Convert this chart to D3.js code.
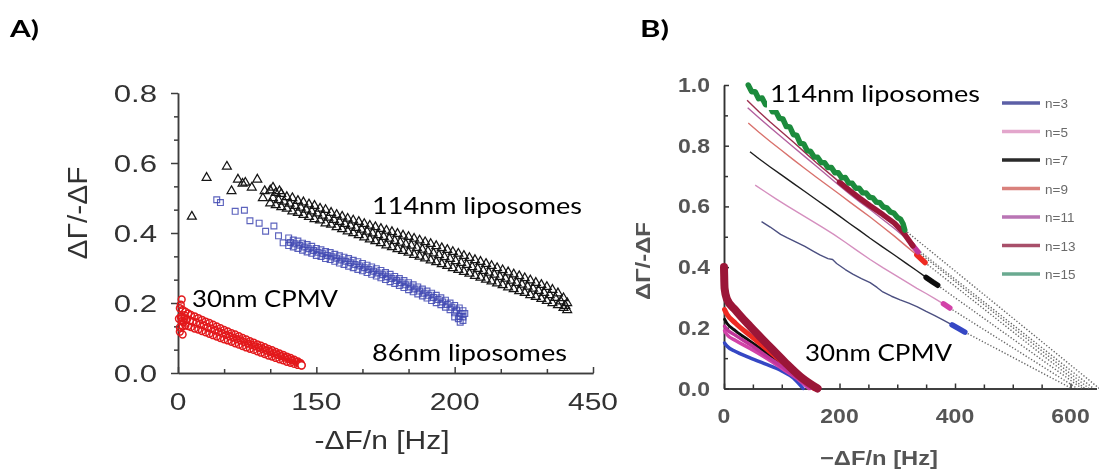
<!DOCTYPE html>
<html>
<head>
<meta charset="utf-8">
<script src="https://cdn.jsdelivr.net/npm/d3@7/dist/d3.min.js"></script>
<style>
  html, body { margin: 0; padding: 0; background: #ffffff; }
  svg { display: block; }
</style>
</head>
<body>
<svg id="chart" width="1099" height="472"></svg>
<script>
// ---------- Panel A: ΔΓ/−ΔF against −ΔF/n, markers per particle size ----------
const aXTicks = [0, 150, 300, 450];
const aXTickLabels = ["0", "150", "200", "450"];
const aXMinor = [50, 100, 200, 250, 350, 400];
const aYTicks = [0, 0.2, 0.4, 0.6, 0.8];
const aYTickLabels = ["0.0", "0.2", "0.4", "0.6", "0.8"];
const aYMinor = [0.0667, 0.1333, 0.2667, 0.3333, 0.4667, 0.5333, 0.6667, 0.7333];

// 114 nm liposomes (triangles)
const lipo114Early = [[15,0.447],[31,0.558],[53,0.59],[58,0.52],[65,0.553],[70,0.541],[73,0.544],[80,0.53],[86,0.553],[92,0.50],[94,0.52],[103,0.53],[110,0.52]];
const lipo114Upper = [[100,0.522],[106,0.515],[112,0.512],[118,0.503],[124,0.500],[130,0.492],[136,0.488],[142,0.482],[148,0.478],[154,0.470],[160,0.466],[166,0.458],[172,0.452],[178,0.447],[184,0.441],[190,0.436],[196,0.432],[202,0.426],[208,0.421],[214,0.417],[220,0.412],[226,0.407],[232,0.403],[238,0.398],[244,0.393],[250,0.389],[256,0.384],[262,0.379],[268,0.374],[274,0.369],[280,0.363],[286,0.357],[292,0.352],[298,0.346],[304,0.341],[310,0.335],[316,0.329],[322,0.323],[328,0.318],[334,0.312],[340,0.306],[346,0.300],[352,0.294],[358,0.288],[364,0.282],[370,0.277],[376,0.271],[382,0.265],[388,0.258],[394,0.252],[400,0.246],[406,0.238],[412,0.228],[418,0.214],[422,0.200]];
const lipo114Mid = [[103,0.500],[109,0.494],[115,0.490],[121,0.484],[127,0.478],[133,0.473],[139,0.467],[145,0.462],[151,0.456],[157,0.450],[163,0.444],[169,0.438],[175,0.432],[181,0.426],[187,0.421],[193,0.415],[199,0.410],[205,0.404],[211,0.399],[217,0.394],[223,0.389],[229,0.384],[235,0.378],[241,0.373],[247,0.368],[253,0.364],[259,0.358],[265,0.353],[271,0.348],[277,0.342],[283,0.337],[289,0.331],[295,0.326],[301,0.320],[307,0.315],[313,0.309],[319,0.303],[325,0.298],[331,0.292],[337,0.287],[343,0.281],[349,0.275],[355,0.270],[361,0.264],[367,0.258],[373,0.253],[379,0.247],[385,0.241],[391,0.235],[397,0.229],[403,0.223],[409,0.215],[415,0.205],[420,0.192]];
const lipo114Lower = [[100,0.485],[106,0.480],[112,0.474],[118,0.470],[124,0.462],[130,0.458],[136,0.452],[142,0.446],[148,0.440],[154,0.436],[160,0.428],[166,0.424],[172,0.417],[178,0.411],[184,0.405],[190,0.400],[196,0.394],[202,0.388],[208,0.382],[214,0.377],[220,0.371],[226,0.365],[232,0.360],[238,0.354],[244,0.349],[250,0.344],[256,0.338],[262,0.333],[268,0.328],[274,0.322],[280,0.317],[286,0.311],[292,0.306],[298,0.300],[304,0.295],[310,0.289],[316,0.284],[322,0.278],[328,0.273],[334,0.267],[340,0.262],[346,0.256],[352,0.251],[358,0.245],[364,0.240],[370,0.234],[376,0.229],[382,0.223],[388,0.218],[394,0.212],[400,0.206],[406,0.200],[412,0.194],[418,0.186],[422,0.180]];

// 86 nm liposomes (squares)
const lipo86Early = [[42,0.495],[46,0.487],[62,0.462],[72,0.465],[78,0.435],[88,0.428],[95,0.405],[104,0.42],[109,0.392],[114,0.372]];
const lipo86Upper = [[120,0.386],[125,0.380],[130,0.377],[135,0.371],[140,0.367],[145,0.362],[150,0.356],[155,0.352],[160,0.347],[165,0.344],[170,0.339],[175,0.335],[180,0.331],[185,0.327],[190,0.322],[195,0.318],[200,0.313],[205,0.308],[210,0.303],[215,0.298],[220,0.293],[225,0.287],[230,0.282],[235,0.276],[240,0.270],[245,0.264],[250,0.258],[255,0.252],[260,0.246],[265,0.240],[270,0.234],[275,0.228],[280,0.222],[285,0.215],[290,0.208],[295,0.200],[300,0.193],[305,0.186],[309,0.178]];
const lipo86Mid = [[122,0.373],[127,0.369],[132,0.365],[137,0.360],[142,0.355],[147,0.350],[152,0.345],[157,0.341],[162,0.336],[167,0.332],[172,0.328],[177,0.323],[182,0.319],[187,0.315],[192,0.310],[197,0.306],[202,0.301],[207,0.296],[212,0.291],[217,0.286],[222,0.281],[227,0.275],[232,0.270],[237,0.264],[242,0.258],[247,0.252],[252,0.246],[257,0.240],[262,0.234],[267,0.228],[272,0.222],[277,0.216],[282,0.210],[287,0.203],[292,0.196],[297,0.188],[302,0.180],[307,0.170]];
const lipo86Lower = [[120,0.364],[125,0.360],[130,0.356],[135,0.351],[140,0.346],[145,0.342],[150,0.336],[155,0.333],[160,0.327],[165,0.324],[170,0.319],[175,0.314],[180,0.310],[185,0.305],[190,0.301],[195,0.296],[200,0.292],[205,0.287],[210,0.282],[215,0.277],[220,0.272],[225,0.267],[230,0.261],[235,0.256],[240,0.250],[245,0.244],[250,0.238],[255,0.232],[260,0.226],[265,0.220],[270,0.214],[275,0.207],[280,0.201],[285,0.195],[290,0.188],[295,0.181],[300,0.172],[305,0.162],[309,0.150]];
const lipo86End = [[300,0.160],[304,0.155],[306,0.145],[309,0.160],[311,0.170]];

// 30 nm CPMV (circles)
const cpmv30Scatter = [[4,0.21],[3,0.195],[5,0.11],[2,0.118],[1,0.155],[3,0.16],[4,0.148],[6,0.145],[9,0.152],[7,0.165]];
const cpmv30Upper = [[2,0.185],[5,0.180],[8,0.175],[11,0.170],[14,0.166],[18,0.162],[22,0.157],[26,0.152],[30,0.147],[34,0.143],[38,0.138],[42,0.133],[46,0.128],[50,0.123],[54,0.119],[58,0.114],[62,0.110],[66,0.105],[70,0.100],[74,0.096],[78,0.091],[82,0.087],[86,0.082],[90,0.078],[94,0.074],[98,0.069],[102,0.065],[106,0.060],[110,0.056],[114,0.052],[118,0.047],[122,0.043],[126,0.038],[130,0.033],[133,0.028]];
const cpmv30Mid = [[4,0.157],[7,0.156],[10,0.154],[13,0.150],[16,0.147],[20,0.144],[24,0.140],[28,0.136],[32,0.131],[36,0.127],[40,0.123],[44,0.118],[48,0.114],[52,0.109],[56,0.105],[60,0.101],[64,0.097],[68,0.093],[72,0.088],[76,0.084],[80,0.080],[84,0.076],[88,0.072],[92,0.068],[96,0.064],[100,0.060],[104,0.056],[108,0.052],[112,0.048],[116,0.044],[120,0.040],[124,0.036],[128,0.032],[132,0.027]];
const cpmv30Lower = [[2,0.130],[5,0.133],[8,0.136],[11,0.134],[14,0.131],[18,0.127],[22,0.124],[26,0.120],[30,0.116],[34,0.112],[38,0.108],[42,0.104],[46,0.100],[50,0.096],[54,0.093],[58,0.089],[62,0.085],[66,0.081],[70,0.077],[74,0.073],[78,0.069],[82,0.066],[86,0.062],[90,0.058],[94,0.054],[98,0.050],[102,0.047],[106,0.043],[110,0.039],[114,0.036],[118,0.032],[122,0.029],[126,0.026],[130,0.023],[134,0.022]];

// ---------- Panel B: overtone-resolved curves with extrapolated fits ----------
const bXTicks = [0, 200, 400, 600];
const bXMinor = [50, 100, 150, 250, 300, 350, 450, 500, 550];
const bYTicks = [0, 0.2, 0.4, 0.6, 0.8, 1.0];
const bYTickLabels = ["0.0", "0.2", "0.4", "0.6", "0.8", "1.0"];
const bYMinor = [0.1, 0.3, 0.5, 0.7, 0.9];

const overtones = ["n=3", "n=5", "n=7", "n=9", "n=11", "n=13", "n=15"];
const lineColors = ["#4b4f80", "#d58fbf", "#1e1e1e", "#d9726d", "#b3609f", "#9c2f4e", "#1e8b3c"];
const blobColors = ["#3447c4", "#d243a8", "#111111", "#ee2a22", "#c0359a", "#9b1637", "#1e8b3c"];
const legendColors = ["#5b5fa6", "#e3a6cc", "#2a2a2a", "#d9817c", "#b974b4", "#a8506a", "#6aaa90"];

const lipoB3 = [[65,0.55],[80,0.532],[98,0.508],[109,0.497],[125,0.482],[140,0.468],[155,0.452],[166,0.44],[180,0.428],[188,0.425],[195,0.412],[210,0.392],[223,0.377],[238,0.362],[253,0.349],[265,0.333],[275,0.318],[290,0.304],[305,0.292],[320,0.281],[334,0.27],[350,0.254],[365,0.24],[379,0.226],[395,0.21],[405,0.199],[417,0.186]];
const lipoB5 = [[54,0.67],[70,0.65],[90,0.625],[110,0.601],[130,0.578],[150,0.555],[170,0.532],[190,0.508],[210,0.482],[230,0.455],[253,0.425],[275,0.398],[295,0.375],[315,0.352],[334,0.33],[350,0.313],[365,0.296],[380,0.279],[391,0.265]];
const lipoB7 = [[45,0.78],[60,0.758],[80,0.73],[100,0.703],[120,0.676],[140,0.649],[160,0.622],[180,0.595],[200,0.568],[218,0.543],[235,0.52],[253,0.495],[275,0.466],[295,0.44],[315,0.413],[334,0.388],[350,0.366],[362,0.35],[370,0.34]];
const lipoB9 = [[42,0.875],[60,0.845],[80,0.814],[100,0.784],[120,0.754],[140,0.725],[160,0.696],[180,0.668],[200,0.64],[218,0.614],[235,0.59],[253,0.565],[275,0.532],[295,0.502],[315,0.47],[334,0.44],[348,0.415]];
const lipoB11 = [[41,0.925],[60,0.893],[80,0.86],[100,0.828],[120,0.796],[140,0.764],[160,0.732],[180,0.7],[200,0.668],[218,0.64],[235,0.615],[253,0.59],[275,0.557],[295,0.527],[315,0.495],[325,0.475],[336,0.45]];
const lipoB13 = [[40,0.95],[60,0.913],[80,0.878],[100,0.845],[120,0.812],[140,0.778],[160,0.744],[180,0.712],[200,0.68],[218,0.652],[235,0.627],[253,0.602],[275,0.573],[295,0.545],[310,0.515],[327,0.47]];
const lipoB15 = [[42,1.0],[48,0.978],[54,0.978],[60,0.955],[66,0.957],[72,0.935],[78,0.936],[84,0.912],[90,0.912],[96,0.89],[102,0.888],[108,0.863],[114,0.862],[120,0.837],[126,0.834],[132,0.808],[138,0.806],[144,0.784],[150,0.781],[156,0.763],[162,0.762],[168,0.745],[174,0.744],[180,0.728],[186,0.728],[192,0.711],[198,0.711],[204,0.694],[210,0.695],[216,0.677],[222,0.676],[228,0.66],[234,0.66],[240,0.645],[246,0.644],[252,0.63],[258,0.628],[264,0.614],[270,0.612],[276,0.598],[282,0.595],[288,0.582],[294,0.578],[300,0.564],[306,0.557],[310,0.543],[313,0.522]];
const lipoB = [lipoB3, lipoB5, lipoB7, lipoB9, lipoB11, lipoB13, lipoB15];
const thickFrom = [385, 368, 350, 330, 318, 200, 42];
const fitZero = [602, 612, 620, 625, 632, 640, 650];

const cpmvB3 = [[1,0.15],[5,0.14],[20,0.122],[41,0.104],[70,0.082],[100,0.058],[120,0.035],[137,0.0]];
const cpmvB5 = [[1,0.19],[5,0.178],[20,0.158],[45,0.132],[75,0.098],[105,0.06],[130,0.028],[147,0.0]];
const cpmvB7 = [[1,0.228],[5,0.215],[20,0.19],[45,0.156],[75,0.115],[105,0.072],[130,0.035],[152,0.0]];
const cpmvB9 = [[1,0.26],[5,0.245],[20,0.215],[45,0.175],[75,0.128],[105,0.08],[135,0.032],[156,0.0]];
const cpmvB11 = [[1,0.205],[5,0.195],[20,0.175],[45,0.145],[75,0.105],[105,0.066],[130,0.03],[150,0.0]];
const cpmvB13 = [[0,0.40],[1,0.33],[5,0.295],[20,0.258],[45,0.205],[75,0.146],[105,0.088],[135,0.035],[162,0.0]];
const cpmvB = [cpmvB3, cpmvB5, cpmvB7, cpmvB9, cpmvB11, cpmvB13];
const cpmvWidths = [3.5, 3.5, 3, 5, 3.5, 8];

// ---------- drawing ----------
const svg = d3.select("#chart");
const defs = svg.append("defs");
defs.append("filter").attr("id", "softA").attr("x", "-5%").attr("y", "-5%").attr("width", "110%").attr("height", "110%")
  .append("feGaussianBlur").attr("stdDeviation", 0.35);
defs.append("filter").attr("id", "softB").attr("x", "-5%").attr("y", "-5%").attr("width", "110%").attr("height", "110%")
  .append("feGaussianBlur").attr("stdDeviation", 0.7);

function styleAxis(sel, color) {
  sel.selectAll("path,line").attr("stroke", color).attr("stroke-width", 1.5);
  sel.selectAll("text").remove();
}

// ----- panel A -----
const xA = d3.scaleLinear().domain([0, 450]).range([178, 593]);
const yA = d3.scaleLinear().domain([0, 0.8]).range([373, 93]);
const gA = svg.append("g");
const axA = gA.append("g").attr("filter", "url(#softA)");

axA.append("g").attr("transform", `translate(0,${yA(0)})`)
  .call(d3.axisBottom(xA).tickValues(aXTicks).tickSize(-6).tickSizeOuter(0)).call(styleAxis, "#3c3c3c");
axA.append("g").attr("transform", `translate(0,${yA(0)})`)
  .call(d3.axisBottom(xA).tickValues(aXMinor).tickSize(-4).tickSizeOuter(0)).call(styleAxis, "#3c3c3c");
axA.append("g").attr("transform", `translate(${xA(0)},0)`)
  .call(d3.axisLeft(yA).tickValues(aYTicks).tickSize(7).tickSizeOuter(0)).call(styleAxis, "#3c3c3c");
axA.append("g").attr("transform", `translate(${xA(0)},0)`)
  .call(d3.axisLeft(yA).tickValues(aYMinor).tickSize(4).tickSizeOuter(0)).call(styleAxis, "#3c3c3c");

axA.append("g").selectAll("text").data(aXTicks).join("text")
  .attr("transform", d => `translate(${xA(d)},${yA(0) + 37}) scale(1.25,1)`)
  .attr("text-anchor", "middle")
  .style("font-family", "'Liberation Sans', Arial, sans-serif").style("font-size", "24px").attr("fill", "#333")
  .text((d, i) => aXTickLabels[i]);
axA.append("g").selectAll("text").data(aYTicks).join("text")
  .attr("transform", d => `translate(157,${yA(d) + 9}) scale(1.3,1)`)
  .attr("text-anchor", "end")
  .style("font-family", "'Liberation Sans', Arial, sans-serif").style("font-size", "24px").attr("fill", "#333")
  .text((d, i) => aYTickLabels[i]);

axA.append("text").attr("x", 382).attr("y", 449).attr("text-anchor", "middle")
  .attr("textLength", 135).attr("lengthAdjust", "spacingAndGlyphs")
  .style("font-family", "'Liberation Sans', Arial, sans-serif").style("font-size", "25px").attr("fill", "#333")
  .text("-ΔF/n [Hz]");
axA.append("text").attr("transform", "translate(87,213) rotate(-90)").attr("text-anchor", "middle")
  .attr("textLength", 93).attr("lengthAdjust", "spacingAndGlyphs")
  .style("font-family", "'Liberation Sans', Arial, sans-serif").style("font-size", "27px").attr("fill", "#333")
  .text("ΔΓ/-ΔF");

// markers
const mA = gA.append("g");
const redPts = cpmv30Scatter.concat(cpmv30Upper, cpmv30Mid, cpmv30Lower);
mA.append("g").selectAll("circle").data(redPts).join("circle")
  .attr("cx", d => xA(d[0])).attr("cy", d => yA(d[1])).attr("r", 3.4)
  .attr("fill", "none").attr("stroke", "#e3191c").attr("stroke-width", 1.5);
// last recorded point, drawn open on top
mA.append("circle").datum(cpmv30Lower[cpmv30Lower.length - 1])
  .attr("cx", d => xA(d[0])).attr("cy", d => yA(d[1])).attr("r", 3.6)
  .attr("fill", "#fff").attr("stroke", "#e3191c").attr("stroke-width", 1.5);

const sq = d3.symbol().type(d3.symbolSquare).size(34);
const bluePts = lipo86Early.concat(lipo86Upper, lipo86Mid, lipo86Lower, lipo86End);
mA.append("g").selectAll("path").data(bluePts).join("path")
  .attr("transform", d => `translate(${xA(d[0])},${yA(d[1])})`).attr("d", sq)
  .attr("fill", "none").attr("stroke", "#3f48b2").attr("stroke-opacity", 0.85).attr("stroke-width", 1.15);

const tri = d3.symbol().type(d3.symbolTriangle).size(34);
const blackPts = lipo114Early.concat(lipo114Upper, lipo114Mid, lipo114Lower);
mA.append("g").selectAll("path").data(blackPts).join("path")
  .attr("transform", d => `translate(${xA(d[0])},${yA(d[1])})`).attr("d", tri)
  .attr("fill", "none").attr("stroke", "#161616").attr("stroke-width", 1.25);

// annotations A
const annFont = "Lato, 'Open Sans', sans-serif";
function label(g, txt, x, y, len, box) {
  if (box) g.append("rect").attr("x", x - 3).attr("y", y - 21).attr("width", len + 6).attr("height", 29).attr("fill", "#fff");
  g.append("text").attr("x", x).attr("y", y).attr("textLength", len).attr("lengthAdjust", "spacingAndGlyphs")
    .style("font-family", annFont).style("font-size", "24px").attr("fill", "#000").text(txt);
}
label(gA, "30nm CPMV", 192, 307, 146, false);
label(gA, "114nm liposomes", 372, 214, 210, false);
label(gA, "86nm liposomes", 372, 361, 195, false);

svg.append("text").attr("x", 10).attr("y", 37).attr("textLength", 29).attr("lengthAdjust", "spacingAndGlyphs")
  .style("font-family", annFont).style("font-size", "22px").style("font-weight", 700).text("A)");
svg.append("text").attr("x", 640).attr("y", 37).attr("textLength", 29).attr("lengthAdjust", "spacingAndGlyphs")
  .style("font-family", annFont).style("font-size", "22px").style("font-weight", 700).text("B)");

// ----- panel B -----
const xB = d3.scaleLinear().domain([0, 645]).range([724, 1096.5]);
const yB = d3.scaleLinear().domain([0, 1]).range([388.5, 85]);
const gB = svg.append("g").attr("filter", "url(#softB)");

gB.append("g").attr("transform", `translate(0,${yB(0)})`)
  .call(d3.axisBottom(xB).tickValues(bXTicks).tickSize(-5).tickSizeOuter(0)).call(styleAxis, "#333");
gB.append("g").attr("transform", `translate(0,${yB(0)})`)
  .call(d3.axisBottom(xB).tickValues(bXMinor).tickSize(-4).tickSizeOuter(0)).call(styleAxis, "#333");
gB.append("g").attr("transform", `translate(${xB(0)},0)`)
  .call(d3.axisRight(yB).tickValues(bYTicks).tickSize(5).tickSizeOuter(0)).call(styleAxis, "#333");
gB.append("g").attr("transform", `translate(${xB(0)},0)`)
  .call(d3.axisRight(yB).tickValues(bYMinor).tickSize(4).tickSizeOuter(0)).call(styleAxis, "#333");

const tickFontB = "'Liberation Sans', Arial, sans-serif";
gB.append("g").selectAll("text").data(bXTicks).join("text")
  .attr("transform", d => `translate(${xB(d)},423) scale(1.15,1)`).attr("text-anchor", "middle")
  .style("font-family", tickFontB).style("font-size", "20px").style("font-weight", 700).attr("fill", "#555")
  .text(d => d);
gB.append("g").selectAll("text").data(bYTicks).join("text")
  .attr("transform", d => `translate(710,${yB(d) + 7}) scale(1.15,1)`).attr("text-anchor", "end")
  .style("font-family", tickFontB).style("font-size", "20px").style("font-weight", 700).attr("fill", "#555")
  .text((d, i) => bYTickLabels[i]);
gB.append("text").attr("x", 879).attr("y", 465).attr("text-anchor", "middle")
  .attr("textLength", 118).attr("lengthAdjust", "spacingAndGlyphs")
  .style("font-family", tickFontB).style("font-size", "20px").style("font-weight", 700).attr("fill", "#555")
  .text("−ΔF/n [Hz]");
gB.append("text").attr("transform", "translate(650,261) rotate(-90)").attr("text-anchor", "middle")
  .attr("textLength", 78).attr("lengthAdjust", "spacingAndGlyphs")
  .style("font-family", tickFontB).style("font-size", "20px").style("font-weight", 700).attr("fill", "#555")
  .text("ΔΓ/-ΔF");

const lineB = d3.line().x(d => xB(d[0])).y(d => yB(d[1]));
const smoothB = d3.line().x(d => xB(d[0])).y(d => yB(d[1])).curve(d3.curveMonotoneX);

// extrapolated fits to zero dissipation ratio
gB.append("g").selectAll("path").data(lipoB).join("path")
  .attr("d", (d, i) => lineB([d[d.length - 1], [fitZero[i], 0]]))
  .attr("fill", "none").attr("stroke", "#666").attr("stroke-width", 1.4).attr("stroke-dasharray", "1.3,1.9");

// CPMV curves near the origin
gB.append("g").selectAll("path").data(cpmvB).join("path")
  .attr("d", d => smoothB(d)).attr("fill", "none")
  .attr("stroke", (d, i) => blobColors[i]).attr("stroke-width", (d, i) => cpmvWidths[i])
  .attr("stroke-linecap", "round").attr("stroke-linejoin", "round");

// liposome curves: thin trace then dense end segment
gB.append("g").selectAll("path").data(lipoB).join("path")
  .attr("d", d => lineB(d)).attr("fill", "none")
  .attr("stroke", (d, i) => lineColors[i]).attr("stroke-width", 1.4).attr("stroke-linejoin", "round");
gB.append("g").selectAll("path").data(lipoB).join("path")
  .attr("d", (d, i) => lineB(d.filter(p => p[0] >= thickFrom[i]))).attr("fill", "none")
  .attr("stroke", (d, i) => blobColors[i]).attr("stroke-width", 5.5)
  .attr("stroke-linecap", "round").attr("stroke-linejoin", "round");

// legend
const lg = gB.append("g").selectAll("g").data(overtones).join("g")
  .attr("transform", (d, i) => `translate(1002,${103 + i * 28.5})`);
lg.append("line").attr("x1", 0).attr("x2", 38).attr("stroke", (d, i) => legendColors[i]).attr("stroke-width", 3.5);
lg.append("text").attr("x", 43).attr("y", 5)
  .style("font-family", tickFontB).style("font-size", "13.5px").attr("fill", "#6a6a6a").text(d => d);

// annotations B (crisp, on white boxes)
const annB = svg.append("g");
label(annB, "114nm liposomes", 770, 102, 210, true);
label(annB, "30nm CPMV", 805, 361, 147, true);
</script>
</body>
</html>
